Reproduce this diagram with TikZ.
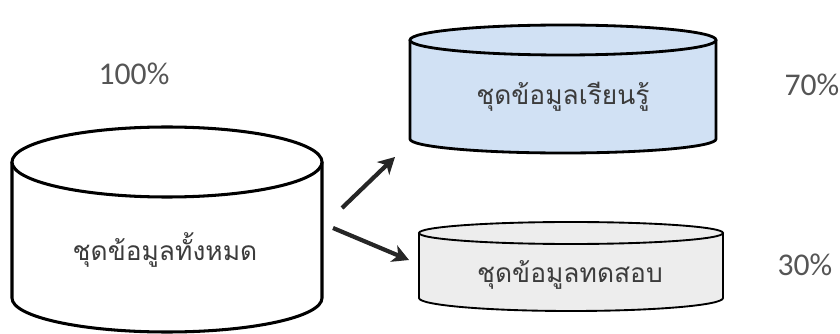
\documentclass[tikz,border=0pt]{standalone}
\usepackage{fontspec}
\setmainfont{Carlito}
\newfontfamily\thaifont[Script=Thai]{Loma}
\usepackage{xcolor}
\usepackage{tikz}
\usetikzlibrary{arrows.meta, positioning}

\definecolor{trainblue}{HTML}{C6D9F1}
\definecolor{pctgray}{HTML}{555555}
\definecolor{labelgray}{HTML}{3C3C3C}

\tikzstyle{arrow} = [line width=3.6pt, -{Stealth[length=14pt, width=15pt, inset=4pt]}, black!85]
\tikzstyle{dblabel} = [font=\thaifont\fontsize{22.5}{27}\selectfont, text=labelgray]
\tikzstyle{pct} = [font=\fontsize{27}{31}\selectfont, text=pctgray]

% cylinder: cx, top y, bottom y, rx, ry top, ry bottom, body style, top style
\newcommand{\drawcyl}[8]{%
  \path[#7] ({#1-#4},#2) -- ({#1-#4},#3) arc[start angle=180, end angle=360, x radius=#4, y radius=#6]
    -- ({#1+#4},#2) arc[start angle=0, end angle=-180, x radius=#4, y radius=#5] -- cycle;
  \draw[#8] ({#1-#4},#2) -- ({#1-#4},#3) arc[start angle=180, end angle=360, x radius=#4, y radius=#6]
    -- ({#1+#4},#2);
  \draw[#8] (#1,#2) ellipse[x radius=#4, y radius=#5];
}

\begin{document}
\begin{tikzpicture}[x=0.03cm, y=0.03cm]
\useasboundingbox (0,0) rectangle (840,333);

% Cylinders
\drawcyl{167}{171}{35}{155}{35}{34}{fill=white}{line width=2.6pt, fill=white}
\drawcyl{563}{293}{194}{153}{15}{14}{fill=trainblue}{line width=2.4pt, fill=trainblue!80}
\drawcyl{571}{100}{35}{152}{11}{13}{top color=gray!28, bottom color=gray!62}{line width=1.6pt, fill=gray!14}

% Labels
\node (allData) [dblabel] at (165,83) {ชุดข้อมูลทั้งหมด};
\node (trainData) [dblabel] at (563,236) {ชุดข้อมูลเรียนรู้};
\node (testData) [dblabel] at (570,58) {ชุดข้อมูลทดสอบ};

\node (pctAll) [pct] at (134,259) {100\%};
\node (pctTrain) [pct] at (812,248) {70\%};
\node (pctTest) [pct] at (805,68) {30\%};

% Split arrows
\coordinate (splitTop) at (342,125);
\coordinate (toTrain) at (395,176);
\coordinate (splitLow) at (333,105);
\coordinate (toTest) at (409,73);
\draw [arrow] (splitTop) -- (toTrain);
\draw [arrow] (splitLow) -- (toTest);
\end{tikzpicture}
\end{document}
